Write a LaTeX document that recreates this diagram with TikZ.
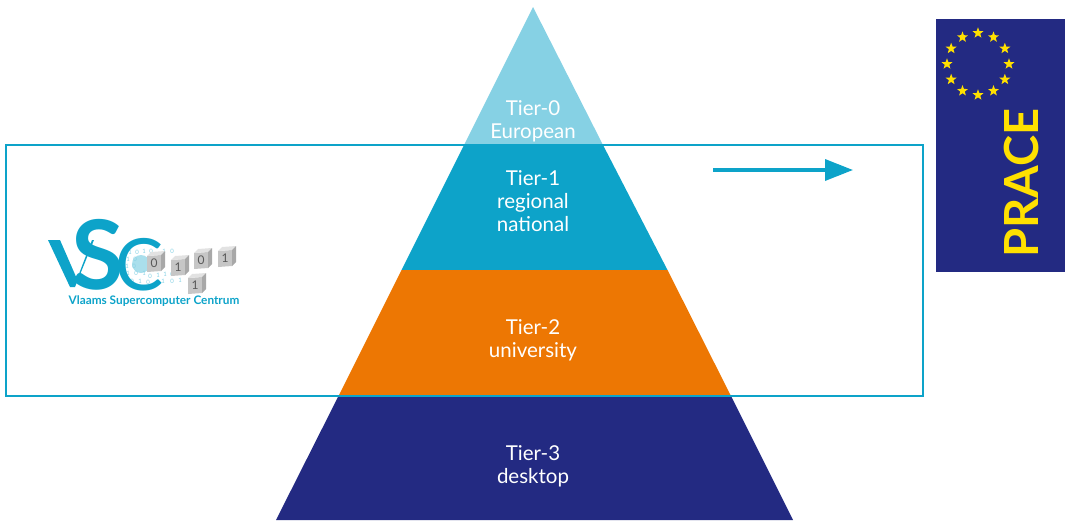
\documentclass[tikz,border=0pt]{standalone}
\usepackage{fontspec}
\setmainfont{Lato}
\usetikzlibrary{shapes.geometric,arrows.meta,calc}
\definecolor{tierzero}{HTML}{86D1E4}
\definecolor{tierone}{HTML}{0DA3C9}
\definecolor{tiertwo}{HTML}{ED7703}
\definecolor{tierthree}{HTML}{232A82}
\definecolor{euyellow}{HTML}{FFE000}
\definecolor{cubeface}{HTML}{C6C6C6}
\definecolor{cubetop}{HTML}{E2E2E2}
\definecolor{cubeside}{HTML}{A8A8A8}
\tikzset{
    tierlabel/.style={text=white,font=\fontsize{20.5}{23}\selectfont,align=center,inner sep=0pt},
    eustar/.style={star,star points=5,star point ratio=2.4,fill=euyellow,draw=none,minimum size=11.5pt,inner sep=0pt},
    floatbit/.style={text=tierone!50,font=\fontsize{6}{6}\selectfont,inner sep=0pt},
    logoletter/.style={text=tierone,inner sep=0pt}
}
% one cube of the logo: position, digit
\newcommand{\bitcube}[2]{
    \fill[cubeface] ($(#1)+(-9,-5)$) -- ++(14,-1) -- ++(0,16) -- ++(-14,1) -- cycle;
    \fill[cubetop] ($(#1)+(-9,-5)$) -- ++(4,-4) -- ++(14,-1) -- ++(-4,4) -- ++(-14,1) -- cycle;
    \fill[cubeside] ($(#1)+(5,-6)$) -- ++(4,-4) -- ++(0,16) -- ++(-4,4) -- cycle;
    \node[text=black!65,font=\fontsize{12}{12}\selectfont,inner sep=0pt] at ($(#1)+(-2,2.5)$) {#2};
}
\begin{document}
\begin{tikzpicture}[x=1pt,y=-1pt]
    \useasboundingbox (0,0) rectangle (1066,522);

    % Piramide
    \fill[tierzero] (533,7) -- (603,145) -- (464,145) -- cycle;
    \fill[tierone] (464,145) -- (603,145) -- (667.5,270) -- (401.5,270) -- cycle;
    \fill[tiertwo] (401.5,270) -- (667.5,270) -- (731,396) -- (338.5,396) -- cycle;
    \fill[tierthree] (338.5,396) -- (731,396) -- (793,520) -- (276,520) -- cycle;

    % Cornice
    \draw[tierone,line width=1.5pt] (6,145) rectangle (923,396);

    % Etichette
    \node[tierlabel] (zero) at (533,121) {Tier-0\\European};
    \node[tierlabel] (one) at (533,201) {Tier-1\\regional\\national};
    \node[tierlabel] (two) at (533,340) {Tier-2\\university};
    \node[tierlabel] (three) at (533,466) {Tier-3\\desktop};

    % Freccia
    \coordinate (arrowstart) at (713,170);
    \coordinate (arrowend) at (853,170);
    \draw[tierone,line width=3.5pt,-{Triangle[length=28pt,width=21pt]}] (arrowstart) -- (arrowend);

    % Bandiera
    \fill[tierthree] (936,19) rectangle (1065,272);
    \foreach \a in {0,30,...,330}
        \node[eustar] at ($(978,64)+(\a:31)$) {};
    \node[text=euyellow,rotate=90,inner sep=0pt,font=\fontsize{47}{47}\selectfont\bfseries] (prace) at (1021,183) {PRACE};

    % Logo
    \fill[tierone!35] (141,264) circle (9);
    \foreach \x/\y/\b in {130/252/1,137/252/0,144/251/1,151/251/0,164/251/1,172/251/0,
        128/259/1,135/259/0,127/266/1,134/266/0,128/273/1,136/273/0,144/273/1,
        150/276/0,158/275/1,165/274/1,172/274/0,132/281/0,140/281/1,148/282/0,163/281/1,172/281/0,180/280/1}
        \node[floatbit] at (\x,\y) {\b};
    \fill[tierone] (48,240) -- (60,240) -- (77,279) -- (92,240) -- (94,240) -- (75,287) -- (70,287) -- cycle;
    \node[logoletter,font=\fontsize{96}{96}\selectfont\bfseries] (logos) at (98,255) {S};
    \node[logoletter,font=\fontsize{72}{72}\selectfont] (logoc) at (140,265) {C};
    \bitcube{156,261}{0}
    \bitcube{180,265}{1}
    \bitcube{203,258}{0}
    \bitcube{227,256}{1}
    \bitcube{197,283}{1}
    \node[logoletter,font=\fontsize{11.8}{12}\selectfont\bfseries] (logoname) at (154,301) {Vlaams Supercomputer Centrum};
\end{tikzpicture}
\end{document}
